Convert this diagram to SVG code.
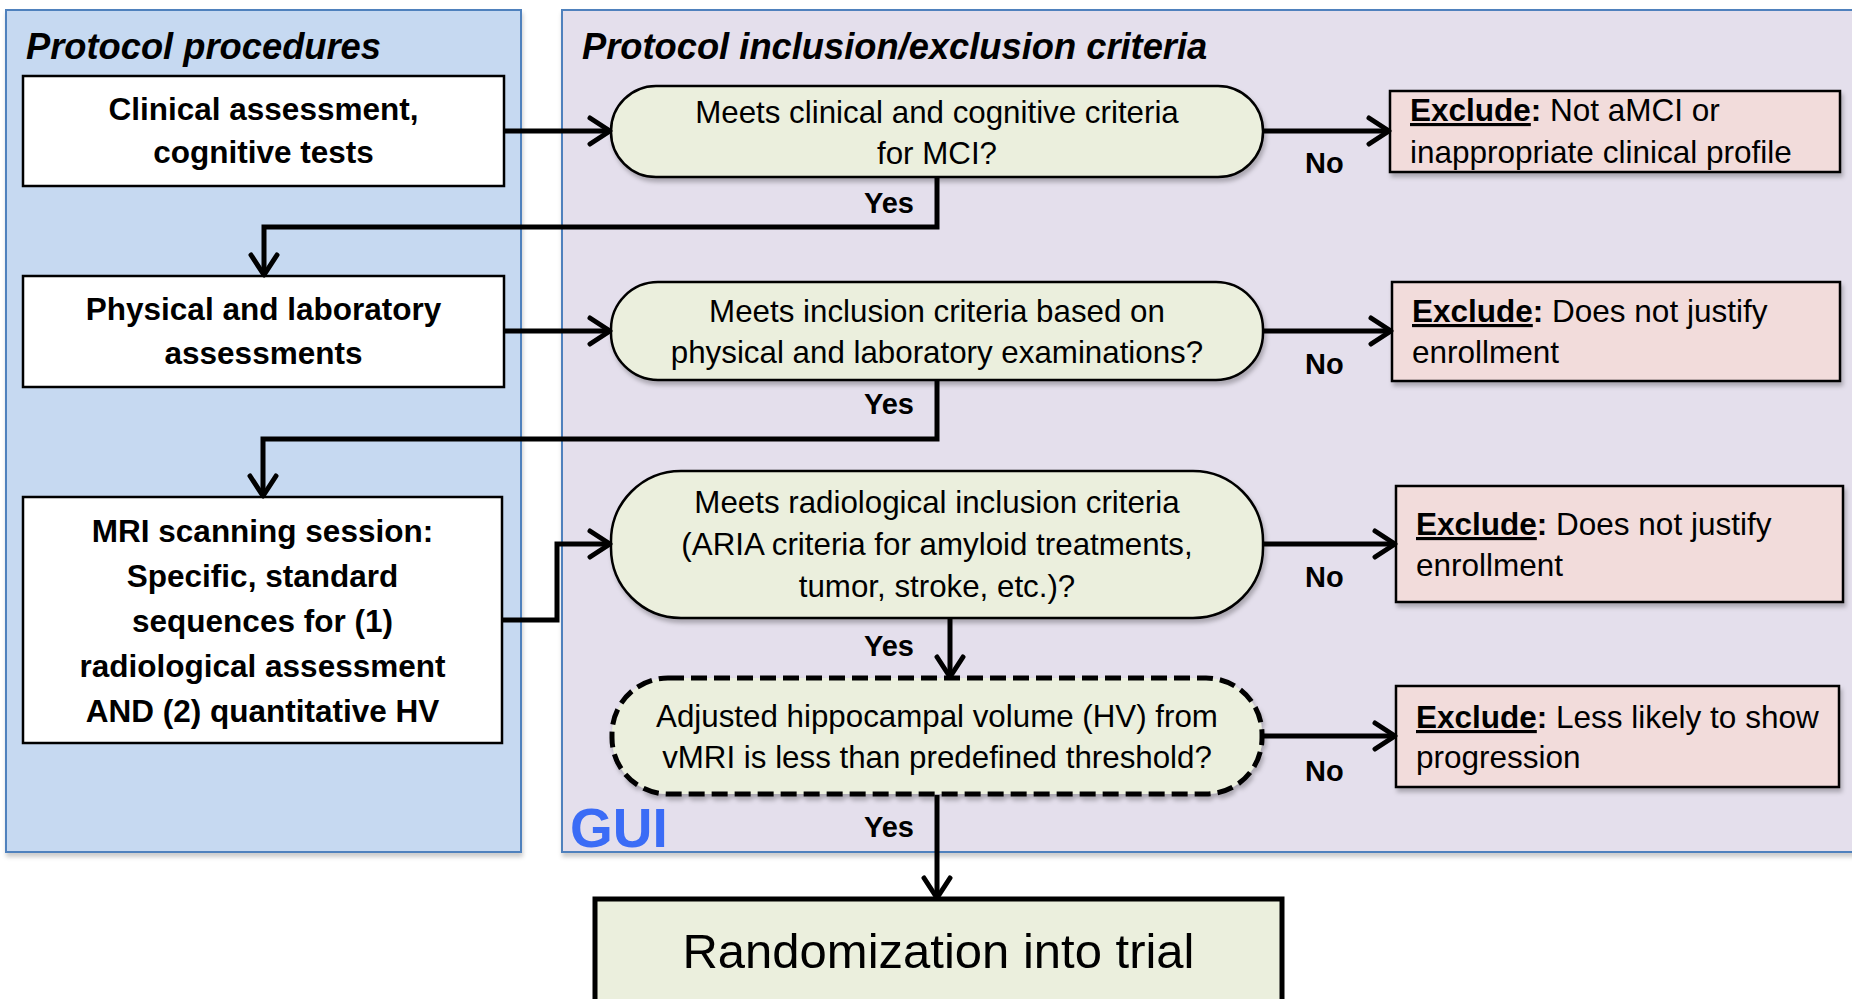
<svg xmlns="http://www.w3.org/2000/svg" width="1852" height="999" viewBox="0 0 1852 999">
<defs>
<style>
.t{font-family:"Liberation Sans",Arial,sans-serif;fill:#000}
.title{font-size:36.3px;font-weight:bold;font-style:italic}
.lb{font-size:31.5px;font-weight:bold;text-anchor:middle}
.dt{font-size:31.3px;text-anchor:middle}
.ex{font-size:31.5px}
.yn{font-size:29px;font-weight:bold}
.box{fill:#fff;stroke:#000;stroke-width:2.5}
.dec{fill:#ebefdd;stroke:#000;stroke-width:2.5}
.exc{fill:#f2dcdb;stroke:#000;stroke-width:2.5}
.con{fill:none;stroke:#000;stroke-width:5;stroke-linejoin:miter}
</style>
<filter id="sh" x="-5%" y="-10%" width="115%" height="130%">
<feDropShadow dx="2" dy="4" stdDeviation="2" flood-color="#000" flood-opacity="0.25"/>
</filter>
<filter id="psh" x="-2%" y="-2%" width="104%" height="104%">
<feDropShadow dx="1" dy="4" stdDeviation="2" flood-color="#000" flood-opacity="0.2"/>
</filter>
<marker id="arr" markerUnits="userSpaceOnUse" viewBox="0 0 28 32" refX="25" refY="16" markerWidth="28" markerHeight="32" orient="auto">
<path d="M4,3 L24,16 L4,29" fill="none" stroke="#000" stroke-width="5" stroke-linecap="round" stroke-linejoin="round"/>
</marker>
</defs>

<g id="panel-procedures">
<rect x="6" y="10" width="515" height="842" fill="#c6d9f1" stroke="#4f81bd" stroke-width="2" filter="url(#psh)"/>
<text class="t title" x="26" y="59">Protocol procedures</text>
</g>
<g id="panel-criteria">
<rect x="562" y="10" width="1296" height="842" fill="#e4dfec" stroke="#4f81bd" stroke-width="2" filter="url(#psh)"/>
<text class="t title" x="582" y="59">Protocol inclusion/exclusion criteria</text>
<text class="t" x="570" y="847" font-size="55" font-weight="bold" style="fill:#3b6cf6">GUI</text>
</g>

<g id="clinical-assessment">
<rect class="box" x="23" y="76" width="481" height="110"/>
<text class="t lb" x="263.5" y="120">Clinical assessment,</text>
<text class="t lb" x="263.5" y="163">cognitive tests</text>
</g>
<g id="physical-lab">
<rect class="box" x="23" y="276" width="481" height="111"/>
<text class="t lb" x="263.5" y="320">Physical and laboratory</text>
<text class="t lb" x="263.5" y="364">assessments</text>
</g>
<g id="mri-session">
<rect class="box" x="23" y="497" width="479" height="246"/>
<text class="t lb" x="262.5" y="542">MRI scanning session:</text>
<text class="t lb" x="262.5" y="587">Specific, standard</text>
<text class="t lb" x="262.5" y="632">sequences for (1)</text>
<text class="t lb" x="262.5" y="677">radiological assessment</text>
<text class="t lb" x="262.5" y="722">AND (2) quantitative HV</text>
</g>

<g id="decision-mci">
<rect class="dec" x="611" y="86" width="652" height="91" rx="45" ry="45" filter="url(#sh)"/>
<text class="t dt" x="937" y="123">Meets clinical and cognitive criteria</text>
<text class="t dt" x="937" y="164">for MCI?</text>
</g>
<g id="decision-physical">
<rect class="dec" x="611" y="282" width="652" height="98" rx="47" ry="47" filter="url(#sh)"/>
<text class="t dt" x="937" y="322">Meets inclusion criteria based on</text>
<text class="t dt" x="937" y="363">physical and laboratory examinations?</text>
</g>
<g id="decision-radiological">
<rect class="dec" x="611" y="471" width="652" height="147" rx="70" ry="70" filter="url(#sh)"/>
<text class="t dt" x="937" y="513">Meets radiological inclusion criteria</text>
<text class="t dt" x="937" y="555">(ARIA criteria for amyloid treatments,</text>
<text class="t dt" x="937" y="597">tumor, stroke, etc.)?</text>
</g>
<g id="decision-hv">
<rect x="612" y="678" width="650" height="116" rx="56" ry="56" fill="#ebefdd" stroke="#000" stroke-width="5" stroke-dasharray="16 7" filter="url(#sh)"/>
<text class="t dt" x="937" y="727">Adjusted hippocampal volume (HV) from</text>
<text class="t dt" x="937" y="768">vMRI is less than predefined threshold?</text>
</g>

<g id="exclude-1">
<rect class="exc" x="1390" y="91" width="450" height="81" filter="url(#sh)"/>
<text class="t ex" x="1410" y="121"><tspan font-weight="bold" text-decoration="underline">Exclude</tspan><tspan font-weight="bold">:</tspan> Not aMCI or</text>
<text class="t ex" x="1410" y="163">inappropriate clinical profile</text>
</g>
<g id="exclude-2">
<rect class="exc" x="1392" y="282" width="448" height="99" filter="url(#sh)"/>
<text class="t ex" x="1412" y="322"><tspan font-weight="bold" text-decoration="underline">Exclude</tspan><tspan font-weight="bold">:</tspan> Does not justify</text>
<text class="t ex" x="1412" y="363">enrollment</text>
</g>
<g id="exclude-3">
<rect class="exc" x="1396" y="486" width="447" height="116" filter="url(#sh)"/>
<text class="t ex" x="1416" y="535"><tspan font-weight="bold" text-decoration="underline">Exclude</tspan><tspan font-weight="bold">:</tspan> Does not justify</text>
<text class="t ex" x="1416" y="576">enrollment</text>
</g>
<g id="exclude-4">
<rect class="exc" x="1396" y="686" width="443" height="101" filter="url(#sh)"/>
<text class="t ex" x="1416" y="728"><tspan font-weight="bold" text-decoration="underline">Exclude</tspan><tspan font-weight="bold">:</tspan> Less likely to show</text>
<text class="t ex" x="1416" y="768">progression</text>
</g>

<g id="randomization">
<rect x="595" y="899" width="687" height="120" fill="#ebefdd" stroke="#000" stroke-width="5"/>
<text class="t" x="938.5" y="968" font-size="49" text-anchor="middle">Randomization into trial</text>
</g>

<g id="connectors">
<path class="con" d="M504,131 H611" marker-end="url(#arr)"/>
<path class="con" d="M1263,131 H1390" marker-end="url(#arr)"/>
<path class="con" d="M937,177 V227 H264 V276" marker-end="url(#arr)"/>
<path class="con" d="M504,331 H611" marker-end="url(#arr)"/>
<path class="con" d="M1263,331 H1392" marker-end="url(#arr)"/>
<path class="con" d="M937,380 V439 H263 V497" marker-end="url(#arr)"/>
<path class="con" d="M502,620 H557 V544 H611" marker-end="url(#arr)"/>
<path class="con" d="M1263,544 H1396" marker-end="url(#arr)"/>
<path class="con" d="M950,618 V678" marker-end="url(#arr)"/>
<path class="con" d="M1263,736 H1396" marker-end="url(#arr)"/>
<path class="con" d="M937,795 V899" marker-end="url(#arr)"/>
<text class="t yn" x="914" y="213" text-anchor="end">Yes</text>
<text class="t yn" x="914" y="414" text-anchor="end">Yes</text>
<text class="t yn" x="914" y="656" text-anchor="end">Yes</text>
<text class="t yn" x="914" y="837" text-anchor="end">Yes</text>
<text class="t yn" x="1305" y="173">No</text>
<text class="t yn" x="1305" y="374">No</text>
<text class="t yn" x="1305" y="587">No</text>
<text class="t yn" x="1305" y="781">No</text>
</g>
</svg>
